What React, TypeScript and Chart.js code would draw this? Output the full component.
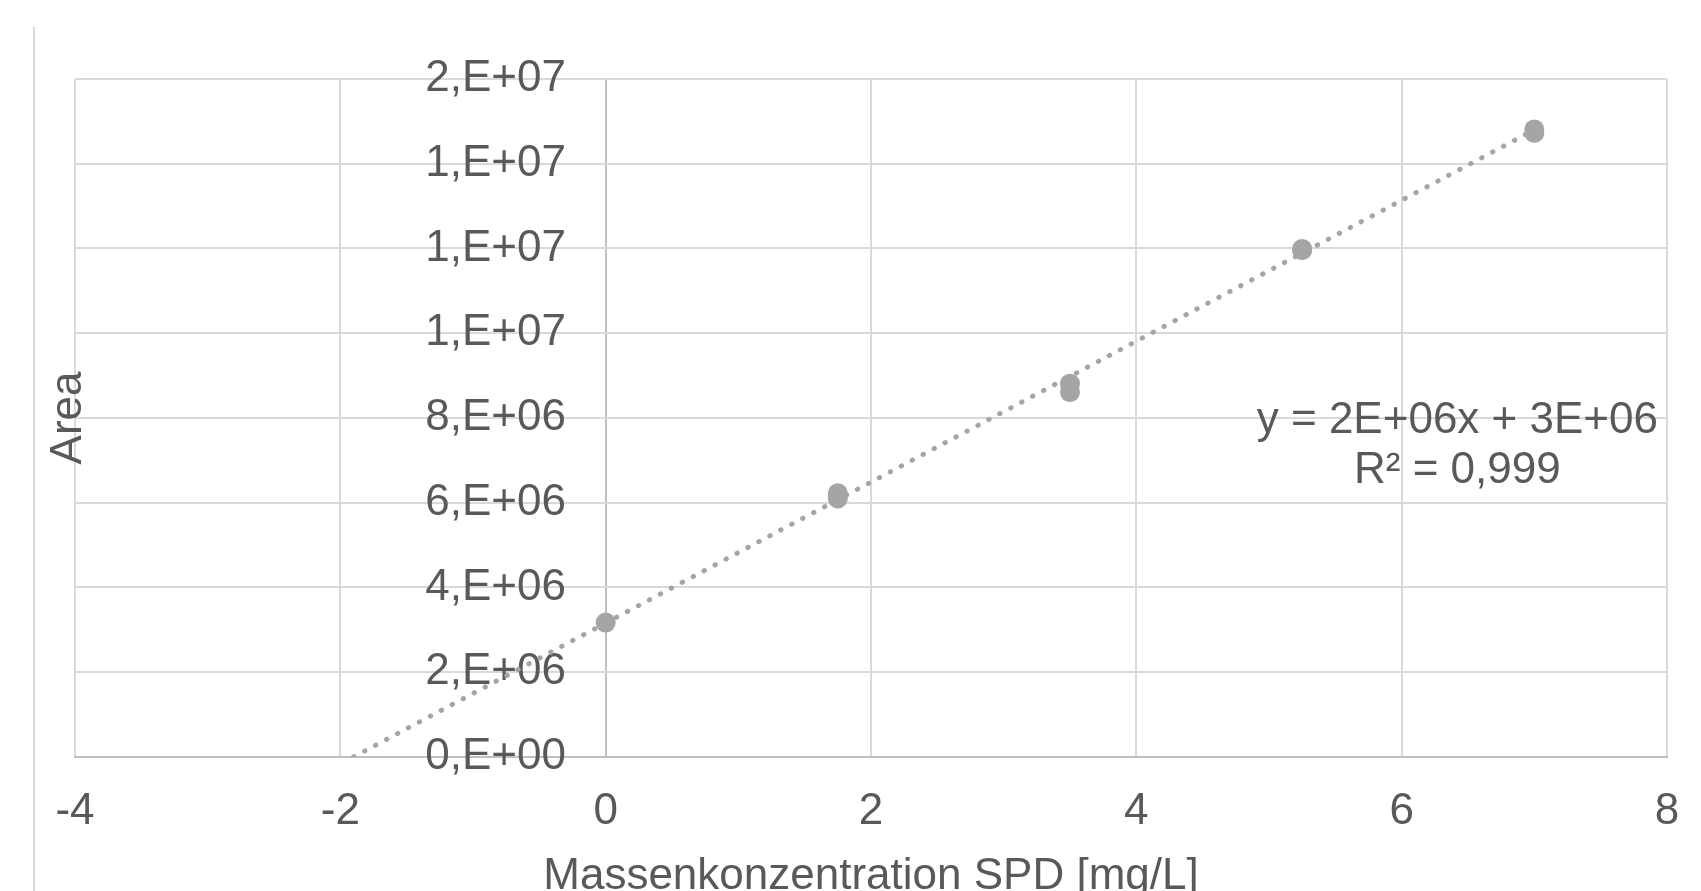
import React, { useEffect, useRef } from 'react';
import { Chart, registerables } from 'chart.js';

Chart.register(...registerables);

// ---- data ----
const concentration = [0, 1.75, 1.75, 3.5, 3.5, 5.25, 5.25, 7, 7];
const area = [3.17e6, 6.22e6, 6.1e6, 8.81e6, 8.61e6, 11.99e6, 11.96e6, 14.81e6, 14.73e6];
const trendX = [-1.9, 7];
const trendY = [0, 14.8e6];
const xTickValues = [-4, -2, 0, 2, 4, 6, 8];
const yTickValues = [0, 2e6, 4e6, 6e6, 8e6, 10e6, 12e6, 14e6, 16e6];
const yTickLabels = ['0,E+00', '2,E+06', '4,E+06', '6,E+06', '8,E+06', '1,E+07', '1,E+07', '1,E+07', '2,E+07'];
const equationLines = ['y = 2E+06x + 3E+06', 'R² = 0,999'];
const xTitle = 'Massenkonzentration SPD [mg/L]';
const yTitle = 'Area';

// ---- styling ----
const FONT = '"Liberation Sans", Arial, sans-serif';
const TEXT = '#595959';
const GRID = '#d9d9d9';
const AXIS = '#bfbfbf';
const MARK = '#a5a5a5';
const EQ_ANCHOR = { x: 6.42, y: 7.94e6 };
const EQ_LINE_GAP = 50;
const Y_LABEL_CROSS = -0.299;

const equationPlugin = {
  id: 'equation',
  afterDatasetsDraw(chart: any) {
    const { ctx, scales } = chart;
    const cx = scales.x.getPixelForValue(EQ_ANCHOR.x);
    const cy = scales.y.getPixelForValue(EQ_ANCHOR.y);
    ctx.save();
    ctx.font = `44px ${FONT}`;
    ctx.fillStyle = TEXT;
    ctx.textAlign = 'center';
    ctx.textBaseline = 'middle';
    equationLines.forEach((line, i) => ctx.fillText(line, cx, cy + i * EQ_LINE_GAP));
    ctx.restore();
  },
};

export default function App() {
  const ref = useRef<HTMLCanvasElement | null>(null);

  useEffect(() => {
    if (!ref.current) return;
    const chart = new Chart(ref.current, {
      type: 'scatter',
      data: {
        datasets: [
          {
            label: 'Messwerte',
            data: concentration.map((x, i) => ({ x, y: area[i] })),
            backgroundColor: MARK,
            borderColor: MARK,
            borderWidth: 0,
            pointRadius: 10,
            pointHoverRadius: 10,
            showLine: false,
          },
          {
            label: 'Trend',
            data: trendX.map((x, i) => ({ x, y: trendY[i] })),
            showLine: true,
            borderColor: MARK,
            borderWidth: 5,
            borderDash: [0.4, 12],
            borderCapStyle: 'round',
            pointRadius: 0,
            fill: false,
          },
        ],
      },
      options: {
        animation: false,
        responsive: false,
        devicePixelRatio: 1,
        layout: { padding: { top: 79, right: 34, bottom: 0, left: 0 } },
        plugins: {
          legend: { display: false },
          tooltip: { enabled: false },
          title: { display: false },
        },
        scales: {
          x: {
            type: 'linear',
            position: 'bottom',
            min: xTickValues[0],
            max: xTickValues[xTickValues.length - 1],
            afterBuildTicks: (scale: any) => {
              scale.ticks = xTickValues.map((v) => ({ value: v }));
            },
            ticks: {
              color: TEXT,
              font: { family: FONT, size: 44 },
              padding: 21.8,
              maxRotation: 0,
              autoSkip: false,
            },
            grid: {
              color: (c: any) => (c.tick && c.tick.value === 0 ? AXIS : GRID),
              lineWidth: 2,
              drawTicks: true,
              tickLength: 6.4,
              tickColor: 'rgba(0,0,0,0)',
            },
            border: { display: true, color: AXIS, width: 2 },
            title: {
              display: true,
              text: xTitle,
              color: TEXT,
              font: { family: FONT, size: 44, lineHeight: 29 / 44 },
              padding: { top: 2.3, bottom: 0 },
            },
          },
          y: {
            type: 'linear',
            position: { x: Y_LABEL_CROSS } as any,
            min: yTickValues[0],
            max: yTickValues[yTickValues.length - 1],
            afterBuildTicks: (scale: any) => {
              scale.ticks = yTickValues.map((v) => ({ value: v }));
            },
            ticks: {
              color: TEXT,
              font: { family: FONT, size: 44 },
              padding: 0,
              autoSkip: false,
              callback: (_v: any, i: number) => yTickLabels[i],
            },
            grid: { color: GRID, lineWidth: 2, drawTicks: false },
            border: { display: false },
          },
          yTitle: {
            type: 'linear',
            axis: 'y',
            position: 'left',
            display: true,
            ticks: { display: false },
            grid: { display: false, drawTicks: false },
            border: { display: false },
            title: {
              display: true,
              text: yTitle,
              color: TEXT,
              font: { family: FONT, size: 44, lineHeight: 11.4 / 44 },
              padding: { top: 63.6, bottom: 0 },
            },
          },
        },
      } as any,
      plugins: [equationPlugin],
    });
    return () => chart.destroy();
  }, []);

  return (
    <div
      style={{
        position: 'fixed',
        left: 0,
        top: 0,
        width: 1701,
        height: 891,
        background: '#ffffff',
        overflow: 'hidden',
      }}
    >
      <div
        style={{
          position: 'absolute',
          left: 33,
          top: 27,
          width: 2,
          bottom: 0,
          background: GRID,
        }}
      />
      <canvas ref={ref} width={1701} height={891} style={{ position: 'absolute', left: 0, top: 0, width: 1701, height: 891 }} />
    </div>
  );
}
